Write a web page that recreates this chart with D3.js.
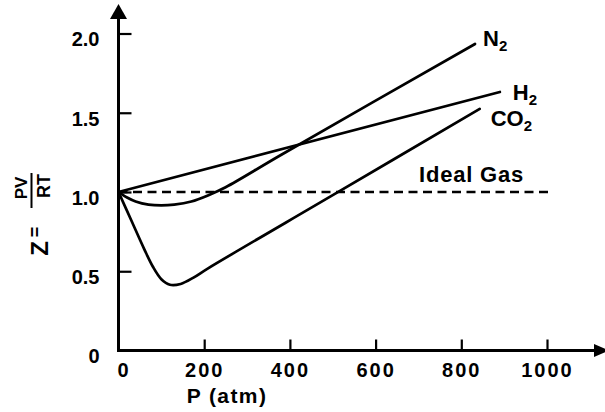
<!DOCTYPE html>
<html>
<head>
<meta charset="utf-8">
<script src="https://cdn.jsdelivr.net/npm/d3@7"></script>
<style>
  html, body { margin: 0; padding: 0; background: #fff; }
  svg { display: block; font-family: "Liberation Sans", Arial, sans-serif; }
</style>
</head>
<body>
<svg id="chart" width="605" height="412"></svg>
<script>
// Compressibility factor Z = PV/RT against pressure for a few real gases
const pressureTicks = [0, 200, 400, 600, 800, 1000];
const zTicks = [0, 0.5, 1.0, 1.5, 2.0];

const n2P  = [0, 20, 40, 70, 100, 130, 170, 210, 250, 380, 832];
const n2Z  = [1.0, 0.965, 0.94, 0.92, 0.915, 0.92, 0.94, 0.98, 1.03, 1.235, 1.934];

const h2P  = [0, 890];
const h2Z  = [1.0, 1.631];

const co2P = [0, 30, 60, 80, 100, 120, 145, 175, 210, 500, 843];
const co2Z = [1.0, 0.82, 0.64, 0.53, 0.45, 0.415, 0.42, 0.46, 0.52, 0.98, 1.524];

const idealP = [0, 1010];
const idealZ = [1.0, 1.0];

const svg = d3.select("#chart");

const x = d3.scaleLinear().domain([0, 1000]).range([118.5, 547]);
const y = d3.scaleLinear().domain([0, 2]).range([350.5, 33.5]);

const toPoints = (ps, zs) => ps.map((p, i) => [p, zs[i]]);

const smooth = d3.line().x(d => x(d[0])).y(d => y(d[1])).curve(d3.curveCatmullRom.alpha(0.5));
const straight = d3.line().x(d => x(d[0])).y(d => y(d[1]));

const FONT = "Liberation Sans, Arial, sans-serif";

// Axes ------------------------------------------------------------
const yAxis = d3.axisLeft(y)
  .tickValues(zTicks)
  .tickFormat(d => d === 0 ? "0" : d3.format(".1f")(d))
  .tickSize(-13)
  .tickPadding(19);

const gy = svg.append("g").attr("transform", `translate(${x(0)},0)`).call(yAxis);
gy.select(".domain").remove();
gy.selectAll(".tick line").attr("stroke", "#000").attr("stroke-width", 2.2);
gy.selectAll(".tick").filter(d => d === 0).select("line").remove();
gy.selectAll(".tick text")
  .attr("fill", "#000")
  .attr("font-size", 20)
  .attr("font-weight", "bold")
  .attr("font-family", FONT)
  .attr("dy", "0.62em");

const xAxis = d3.axisBottom(x)
  .tickValues(pressureTicks)
  .tickFormat(d3.format("d"))
  .tickSize(-11)
  .tickPadding(12);

const gx = svg.append("g").attr("transform", `translate(0,${y(0)})`).call(xAxis);
gx.select(".domain").remove();
gx.selectAll(".tick line").attr("stroke", "#000").attr("stroke-width", 2.2);
gx.selectAll(".tick").filter(d => d === 0).select("line").remove();
gx.selectAll(".tick text")
  .attr("fill", "#000")
  .attr("font-size", 20)
  .attr("font-weight", "bold")
  .attr("font-family", FONT)
  .attr("letter-spacing", 2);
gx.selectAll(".tick").filter(d => d === 0).select("text").attr("dx", 5);

// Axis lines with arrow heads
const axisG = svg.append("g").attr("fill", "#000").attr("stroke", "#000");
axisG.append("line")
  .attr("x1", x(0)).attr("x2", x(0))
  .attr("y1", y(0) + 1.5).attr("y2", 16)
  .attr("stroke-width", 3);
axisG.append("path")
  .attr("stroke", "none")
  .attr("d", `M${x(0)},4 L${x(0) - 8.5},19 L${x(0) + 8.5},19 Z`);
axisG.append("line")
  .attr("x1", x(0) - 1.5).attr("x2", 596)
  .attr("y1", y(0)).attr("y2", y(0))
  .attr("stroke-width", 3);
axisG.append("path")
  .attr("stroke", "none")
  .attr("d", `M609,${y(0)} L594,${y(0) - 6.5} L594,${y(0) + 6.5} Z`);

// Axis titles
svg.append("text")
  .attr("x", 227).attr("y", 403)
  .attr("text-anchor", "middle")
  .attr("font-size", 21)
  .attr("font-weight", "bold")
  .attr("letter-spacing", 1.4)
  .text("P (atm)");

const yTitle = svg.append("g").attr("font-weight", "bold").attr("fill", "#000");
yTitle.append("text")
  .attr("transform", "translate(48,248.5) rotate(-90)")
  .attr("text-anchor", "middle")
  .attr("font-size", 24)
  .text("Z");
yTitle.append("text")
  .attr("transform", "translate(41,232) rotate(-90)")
  .attr("text-anchor", "middle")
  .attr("font-size", 18)
  .text("=");
yTitle.append("text")
  .attr("transform", "translate(27,188) rotate(-90)")
  .attr("text-anchor", "middle")
  .attr("font-size", 17)
  .text("PV");
yTitle.append("line")
  .attr("x1", 31.5).attr("x2", 31.5)
  .attr("y1", 173).attr("y2", 208)
  .attr("stroke", "#000").attr("stroke-width", 2);
yTitle.append("text")
  .attr("transform", "translate(50,186) rotate(-90)")
  .attr("text-anchor", "middle")
  .attr("font-size", 18)
  .text("RT");

// Curves ----------------------------------------------------------
const curves = svg.append("g")
  .attr("fill", "none")
  .attr("stroke", "#000")
  .attr("stroke-width", 2.7)
  .attr("stroke-linejoin", "round")
  .attr("stroke-linecap", "round");

curves.append("path")
  .attr("stroke-dasharray", "9,5.5")
  .attr("stroke-linecap", "butt")
  .attr("d", straight(toPoints(idealP, idealZ)));
curves.append("path").attr("d", straight(toPoints(h2P, h2Z)));
curves.append("path").attr("d", smooth(toPoints(n2P, n2Z)));
curves.append("path").attr("d", smooth(toPoints(co2P, co2Z)));

// Series labels, placed just past the end of each line
const labels = svg.append("g")
  .attr("font-size", 22)
  .attr("font-weight", "bold")
  .attr("fill", "#000");

function gasLabel(px, pz, dx, dy, base, sub) {
  const t = labels.append("text")
    .attr("x", x(px) + dx)
    .attr("y", y(pz) + dy);
  t.append("tspan").text(base);
  if (sub) t.append("tspan").attr("font-size", 15).attr("dy", 5).text(sub);
}

const last = a => a[a.length - 1];
gasLabel(last(n2P), last(n2Z), 8, 2, "N", "2");
gasLabel(last(h2P), last(h2Z), 13, 8, "H", "2");
gasLabel(last(co2P), last(co2Z), 11, 17, "CO", "2");

labels.append("text")
  .attr("x", 419)
  .attr("y", y(1.0) - 10)
  .attr("letter-spacing", 0.8)
  .text("Ideal Gas");
</script>
</body>
</html>
